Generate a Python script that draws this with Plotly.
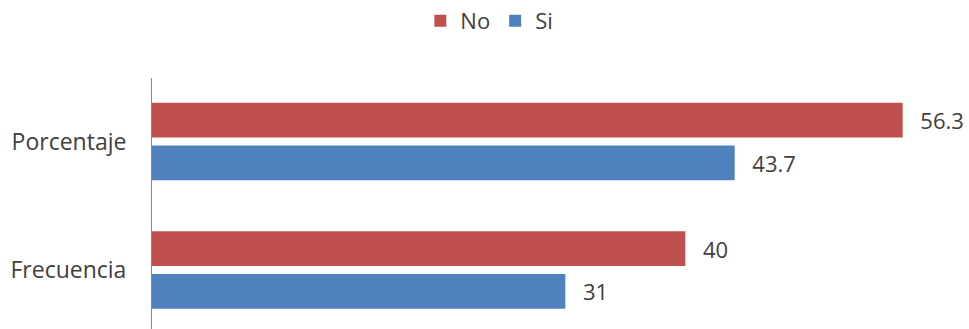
import plotly.graph_objects as go

categories = ["Frecuencia", "Porcentaje"]
no_values = [40, 56.3]
si_values = [31, 43.7]
series_names = ["No", "Si"]

RED = "#C0504D"
BLUE = "#4F81BD"
TXT = "#404040"
FONT = "Open Sans"

fig = go.Figure()
fig.add_trace(go.Bar(
    y=categories, x=si_values, name=series_names[1], orientation="h",
    marker=dict(color=BLUE, line=dict(width=0)),
    width=0.27, offset=-0.302,
    text=si_values, texttemplate="\u2002\u2009%{x}", textposition="outside",
    textfont=dict(family=FONT, size=22, color=TXT), cliponaxis=False,
    legendrank=2,
))
fig.add_trace(go.Bar(
    y=categories, x=no_values, name=series_names[0], orientation="h",
    marker=dict(color=RED, line=dict(width=0)),
    width=0.27, offset=0.032,
    text=no_values, texttemplate="\u2002\u2009%{x}", textposition="outside",
    textfont=dict(family=FONT, size=22, color=TXT), cliponaxis=False,
    legendrank=1,
))

fig.update_layout(
    width=969, height=329,
    margin=dict(l=152, r=17, t=78, b=0, autoexpand=False),
    barmode="overlay",
    paper_bgcolor="white", plot_bgcolor="white",
    font=dict(family=FONT, size=22, color=TXT),
    showlegend=True,
    legend=dict(
        orientation="h", xref="container", yref="container",
        x=0.505, xanchor="center", y=1.0, yanchor="top",
        font=dict(family=FONT, size=22, color=TXT),
        itemwidth=30, traceorder="normal", tracegroupgap=0,
    ),
    xaxis=dict(range=[0, 60], showline=False, showgrid=False, zeroline=False,
               showticklabels=False, ticks="", fixedrange=True),
    yaxis=dict(type="category", categoryorder="array", categoryarray=categories,
               range=[-0.459, 1.494], showline=True, linecolor="#868686", linewidth=1,
               showgrid=False, zeroline=False, ticks="", ticklabelstandoff=20,
               tickfont=dict(family=FONT, size=23, color=TXT), automargin=False),
)

fig.write_html("out.html")
